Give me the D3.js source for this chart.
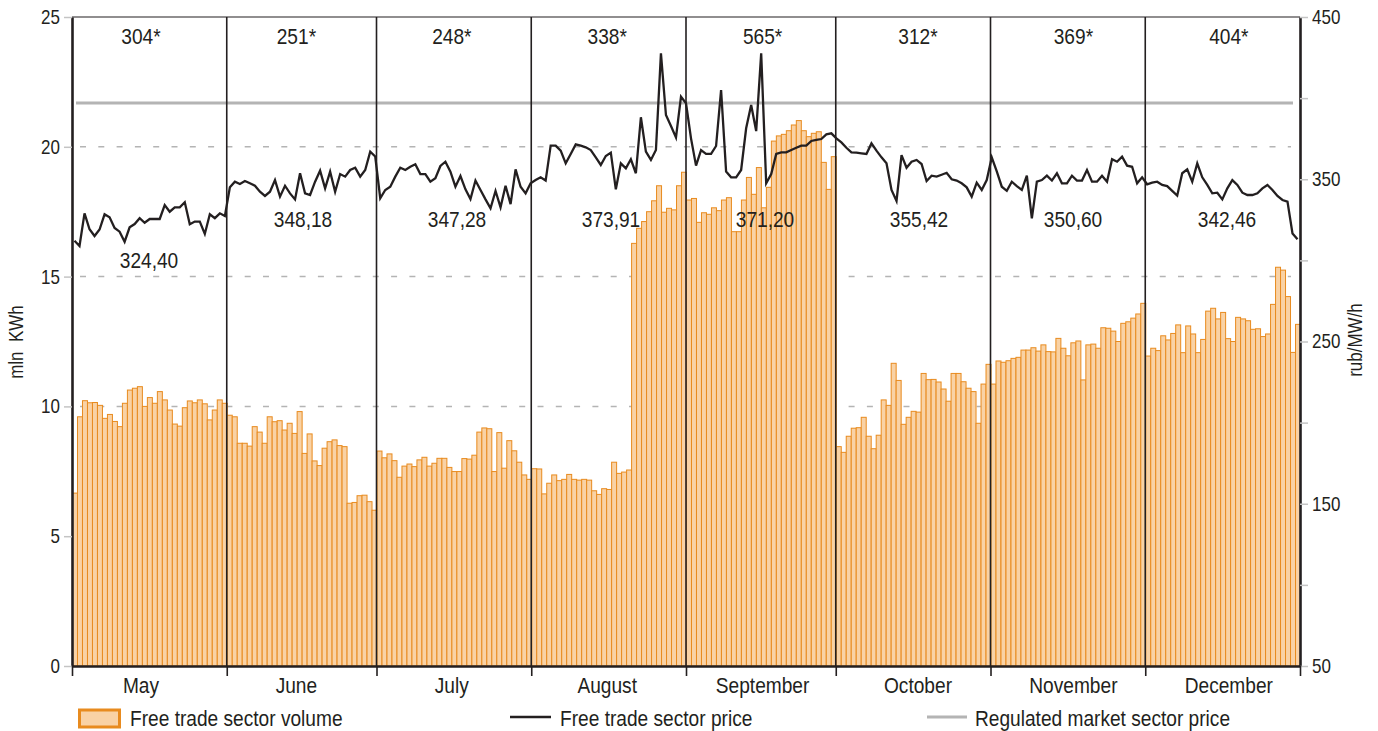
<!DOCTYPE html>
<html>
<head>
<meta charset="utf-8">
<script src="https://cdnjs.cloudflare.com/ajax/libs/d3/7.8.5/d3.min.js"></script>
<style>
    body { margin: 0; background: #fff; }
    svg text { font-family: "Liberation Sans", Arial, sans-serif; fill: #231f20; }
</style>
</head>
<body>
<svg id="chart" width="1378" height="731"></svg>
<script>
var months = ['May', 'June', 'July', 'August', 'September', 'October', 'November', 'December'];
// number of daily bars drawn in each month
var monthBars = [31, 30, 31, 31, 30, 31, 31, 31];

var volMay = [6.66, 9.6, 10.22, 10.14, 10.15, 10.04, 9.54, 9.69, 9.42, 9.22, 10.12, 10.63, 10.7, 10.76, 10.0, 10.34, 10.12, 10.57, 10.25, 9.86, 9.32, 9.24, 9.95, 10.21, 10.14, 10.25, 10.1, 9.48, 9.86, 10.25, 10.12];
var volJun = [9.66, 9.6, 8.58, 8.58, 8.47, 9.22, 9.01, 8.58, 9.6, 9.41, 9.45, 9.09, 9.35, 8.96, 9.8, 8.19, 8.94, 7.9, 7.72, 8.39, 8.64, 8.71, 8.49, 8.45, 6.27, 6.3, 6.56, 6.58, 6.33, 6.0];
var volJul = [8.28, 8.02, 8.17, 7.91, 7.27, 7.7, 7.78, 7.68, 7.94, 8.04, 7.7, 7.81, 8.0, 8.0, 7.65, 7.49, 7.49, 7.99, 7.97, 8.12, 9.01, 9.17, 9.14, 7.49, 8.99, 7.62, 8.68, 8.29, 7.85, 7.36, 7.19];
var volAug = [7.6, 7.59, 6.63, 7.04, 7.36, 7.14, 7.19, 7.38, 7.19, 7.16, 7.19, 7.16, 6.75, 6.61, 6.83, 6.8, 7.85, 7.42, 7.47, 7.55, 16.28, 16.86, 17.12, 17.5, 17.92, 18.5, 17.48, 17.63, 17.57, 18.5, 19.02];
var volSep = [17.95, 18.01, 17.09, 17.46, 17.4, 17.65, 17.54, 17.95, 18.04, 16.73, 16.73, 17.95, 18.82, 18.17, 19.2, 17.65, 18.44, 20.22, 20.42, 20.48, 20.62, 20.84, 21.01, 20.62, 20.39, 20.52, 20.58, 19.4, 18.36, 19.62];
var volOct = [8.45, 8.23, 8.85, 9.16, 9.18, 9.58, 8.85, 8.37, 8.89, 10.25, 10.04, 11.66, 11.0, 9.31, 9.58, 9.81, 9.78, 11.27, 11.03, 11.04, 10.94, 10.67, 10.2, 11.27, 11.27, 10.95, 10.7, 10.57, 9.35, 10.86, 11.62];
var volNov = [10.86, 11.75, 11.7, 11.76, 11.85, 11.89, 12.17, 12.17, 12.26, 12.13, 12.37, 12.11, 12.1, 12.62, 12.24, 11.95, 12.45, 12.52, 11.02, 12.37, 12.4, 12.24, 13.03, 13.01, 12.9, 12.5, 13.2, 13.26, 13.4, 13.56, 13.97];
var volDec = [11.94, 12.24, 12.15, 12.72, 12.56, 12.81, 13.14, 12.07, 13.1, 12.79, 12.07, 12.58, 13.67, 13.78, 13.37, 13.62, 12.61, 12.5, 13.43, 13.37, 13.3, 12.97, 12.99, 12.69, 12.79, 13.93, 15.36, 15.25, 14.23, 12.08, 13.16];

var priceMay = [312.1, 308.9, 329, 319.2, 315, 319, 328.4, 326.5, 320, 317.7, 311.5, 320.4, 322.4, 326, 323.2, 325.5, 325.5, 325.5, 334.1, 330, 332.7, 332.7, 335.8, 322.2, 323.9, 323.9, 316.3, 328.4, 326, 329, 327.3];
var priceJun = [345, 348.5, 347.1, 348.9, 347.5, 346, 342.3, 339.7, 342.3, 349.5, 339.3, 346, 341.3, 337.6, 353.7, 341.3, 340.3, 348.5, 355.3, 344.4, 354.7, 342.3, 353.2, 351.6, 355.7, 357.1, 351.6, 355.7, 367, 364];
var priceJul = [338.3, 343.4, 345.4, 351.6, 357.1, 355.7, 357.7, 359.2, 353.2, 353.2, 348.5, 350.6, 358.2, 360.8, 354.7, 345.4, 352, 343.8, 337.8, 349.2, 343.4, 337.6, 332.1, 342.8, 332.7, 346, 334.7, 356.1, 345.4, 341.3, 347.5];
var priceAug = [349.5, 351.2, 349.2, 370.7, 370.7, 367.6, 359.8, 365.6, 371.5, 370.7, 369.7, 368, 363.5, 358.8, 364.3, 366.4, 343.8, 359.8, 356.7, 362.3, 353.7, 388.2, 367, 361.9, 368, 427.6, 389.6, 382.8, 375.8, 400.9, 396.8];
var priceSep = [375.2, 358.4, 368, 365.6, 365.6, 370.5, 405, 354.7, 351.2, 351.2, 355.7, 381.4, 395.8, 379.7, 427.6, 347.5, 353.2, 365.6, 366.6, 366.6, 368, 369.4, 370.7, 370.7, 373.6, 374.2, 374.8, 377.7, 378.3, 375.2];
var priceOct = [372.7, 369.4, 366.6, 366.4, 366, 365.6, 372.1, 367.6, 363.5, 359.8, 343.4, 336.6, 364.9, 357.1, 360.8, 361.9, 359.4, 348.9, 352.2, 351.6, 352.8, 354, 350, 349.2, 347.5, 345, 339.3, 347.9, 343.4, 349.5, 363.5];
var priceNov = [354.8, 345.4, 342.9, 348.5, 345.8, 343.4, 352.2, 325.9, 348.5, 349.5, 352.2, 349.2, 353.7, 347.5, 347.5, 352.2, 349.2, 349.2, 355.7, 348.5, 348.5, 352.2, 348.5, 362.3, 360.8, 363.9, 358.4, 357.7, 347.5, 351.2];
var priceDec = [346.9, 347.9, 348.5, 346.5, 345.8, 342.8, 339.9, 353.7, 356.1, 348.5, 359.8, 351.2, 346.5, 341.3, 341.7, 337.6, 344.4, 349.5, 346.5, 341.7, 340.3, 340.3, 341.3, 344.4, 346.5, 343.4, 339.7, 337.2, 336.2, 316.6, 313];

var regulatedPrice = 397;
var monthTotals = [304, 251, 248, 338, 565, 312, 369, 404];
var monthAvgPrice = [324.40, 348.18, 347.28, 373.91, 371.20, 355.42, 350.60, 342.46];

var volTicks = [0, 5, 10, 15, 20, 25];
var gridTicks = [5, 10, 15, 20];
var priceTicks = [50, 100, 150, 200, 250, 300, 350, 400, 450];
var priceTickLabels = [50, 150, 250, 350, 450];

var volume = [].concat(volMay, volJun, volJul, volAug, volSep, volOct, volNov, volDec);
var price = [].concat(priceMay, priceJun, priceJul, priceAug, priceSep, priceOct, priceNov, priceDec);

var plotL = 72, plotR = 1300, plotT = 17, plotB = 666;
var narrow = 0.85;
var orange = '#e88b1f', orangeFill = '#f9d2a5', ink = '#231f20', lightGrey = '#b4b4b4';

var svg = d3.select('#chart');

// condensed text: Liberation Sans squeezed horizontally
function label(parent, x, y, str, size, anchor) {
    return parent.append('text')
        .attr('transform', 'translate(' + x + ',' + y + ') scale(' + narrow + ',1)')
        .attr('text-anchor', anchor || 'start')
        .style('font-size', size + 'px')
        .text(str);
}

var x = d3.scaleBand()
    .domain(d3.range(volume.length))
    .range([plotL, plotR])
    .padding(0);
var xEdge = d3.scaleLinear()
    .domain([0, volume.length])
    .range([plotL, plotR]);
var bw = x.bandwidth();
var xPrice = d3.scaleLinear()
    .domain([0, price.length - 1])
    .range([plotL + bw / 2, plotR - bw / 2]);
var yVol = d3.scaleLinear()
    .domain([0, 25])
    .range([plotB, plotT]);
var yPrice = d3.scaleLinear()
    .domain([50, 450])
    .range([plotB, plotT]);
var monthLabelX = d3.scaleBand()
    .domain(months)
    .range([63.3, 1306.5]);
var avgLabelX = d3.scaleBand()
    .domain(months)
    .range([72, 1304]);

var boundaries = [0];
monthBars.forEach(function(n, i) {
    boundaries.push(boundaries[i] + n)
});

// dashed grid
svg.append('g')
    .selectAll('line')
    .data(gridTicks)
    .enter()
    .append('line')
    .attr('x1', 80)
    .attr('x2', 1291)
    .attr('y1', function(d) { return yVol(d) })
    .attr('y2', function(d) { return yVol(d) })
    .attr('stroke', lightGrey)
    .attr('stroke-width', 1.5)
    .attr('stroke-dasharray', '6,12.3');

// volume bars
svg.append('g')
    .selectAll('rect')
    .data(volume)
    .enter()
    .append('rect')
    .attr('x', function(d, i) { return x(i) + 0.5 })
    .attr('width', bw)
    .attr('y', function(d) { return yVol(d) })
    .attr('height', function(d) { return plotB - yVol(d) })
    .attr('fill', orangeFill)
    .attr('stroke', orange)
    .attr('stroke-width', 1);

// regulated price
svg.append('line')
    .attr('x1', 76)
    .attr('x2', 1293)
    .attr('y1', yPrice(regulatedPrice))
    .attr('y2', yPrice(regulatedPrice))
    .attr('stroke', lightGrey)
    .attr('stroke-width', 3);

// month dividers
svg.append('g')
    .selectAll('line')
    .data(boundaries.slice(1, -1))
    .enter()
    .append('line')
    .attr('x1', function(d) { return xEdge(d) })
    .attr('x2', function(d) { return xEdge(d) })
    .attr('y1', plotT)
    .attr('y2', plotB)
    .attr('stroke', ink)
    .attr('stroke-width', 1.6);

// free trade price
var line = d3.line()
    .x(function(d, i) { return xPrice(i) })
    .y(function(d) { return yPrice(d) });
svg.append('path')
    .datum(price)
    .attr('d', line)
    .attr('fill', 'none')
    .attr('stroke', ink)
    .attr('stroke-width', 2.3)
    .attr('stroke-linejoin', 'miter');

// frame
svg.append('line')
    .attr('x1', plotL).attr('x2', plotR)
    .attr('y1', plotT).attr('y2', plotT)
    .attr('stroke', ink)
    .attr('stroke-width', 1.2);

var axisLeft = svg.append('g')
    .attr('transform', 'translate(' + plotL + ',0)')
    .call(d3.axisLeft(yVol)
        .tickValues(volTicks)
        .tickSize(8)
        .tickSizeOuter(0)
        .tickPadding(4));
var axisRight = svg.append('g')
    .attr('transform', 'translate(' + plotR + ',0)')
    .call(d3.axisRight(yPrice)
        .tickValues(priceTicks)
        .tickSize(8)
        .tickSizeOuter(0)
        .tickPadding(4)
        .tickFormat(function(d) { return priceTickLabels.indexOf(d) >= 0 ? d : '' }));
var axisBottom = svg.append('g')
    .attr('transform', 'translate(0,' + plotB + ')')
    .call(d3.axisBottom(xEdge)
        .tickValues(boundaries)
        .tickSize(10)
        .tickSizeOuter(0)
        .tickFormat(''));

[axisLeft, axisRight].forEach(function(a, k) {
    a.selectAll('.tick line')
        .attr('stroke', '#c4c4c4')
        .attr('stroke-width', 1.5);
    a.selectAll('.tick text')
        .attr('x', (k === 0 ? -12 : 12) / narrow)
        .attr('transform', 'scale(' + narrow + ',1)')
        .style('font-size', '20px');
});
axisBottom.selectAll('.tick line')
    .attr('stroke', ink)
    .attr('stroke-width', 1.6);
[axisLeft, axisRight, axisBottom].forEach(function(a) {
    a.select('.domain')
        .attr('stroke', ink)
        .attr('stroke-width', 2.6);
});

// month labels and annotations
var texts = svg.append('g');
months.forEach(function(m, i) {
    var cx = monthLabelX(m) + monthLabelX.bandwidth() / 2;
    label(texts, cx, 693, m, 22.5, 'middle');
    label(texts, cx, 44, monthTotals[i] + '*', 22.5, 'middle');
    label(texts, avgLabelX(m) + avgLabelX.bandwidth() / 2, i === 0 ? 268 : 226.5,
        monthAvgPrice[i].toFixed(2).replace('.', ','), 22.5, 'middle');
});

// axis titles
svg.append('text')
    .attr('transform', 'translate(23,342) rotate(-90) scale(' + narrow + ',1)')
    .attr('text-anchor', 'middle')
    .style('font-size', '20px')
    .style('white-space', 'pre')
    .text('mln  KWh');
svg.append('text')
    .attr('transform', 'translate(1362,340) rotate(-90) scale(' + narrow + ',1)')
    .attr('text-anchor', 'middle')
    .style('font-size', '20px')
    .text('rub/MW/h');

// legend
var legend = svg.append('g');
legend.append('rect')
    .attr('x', 79.5).attr('y', 710)
    .attr('width', 40).attr('height', 17)
    .attr('fill', orangeFill)
    .attr('stroke', orange)
    .attr('stroke-width', 3);
label(legend, 130, 726, 'Free trade sector volume', 22.5);
legend.append('line')
    .attr('x1', 510).attr('x2', 551)
    .attr('y1', 717).attr('y2', 717)
    .attr('stroke', ink)
    .attr('stroke-width', 2.5);
label(legend, 560, 726, 'Free trade sector price', 22.5);
legend.append('line')
    .attr('x1', 927).attr('x2', 967)
    .attr('y1', 717).attr('y2', 717)
    .attr('stroke', lightGrey)
    .attr('stroke-width', 3);
label(legend, 975, 726, 'Regulated market sector price', 22.5);
</script>
</body>
</html>
